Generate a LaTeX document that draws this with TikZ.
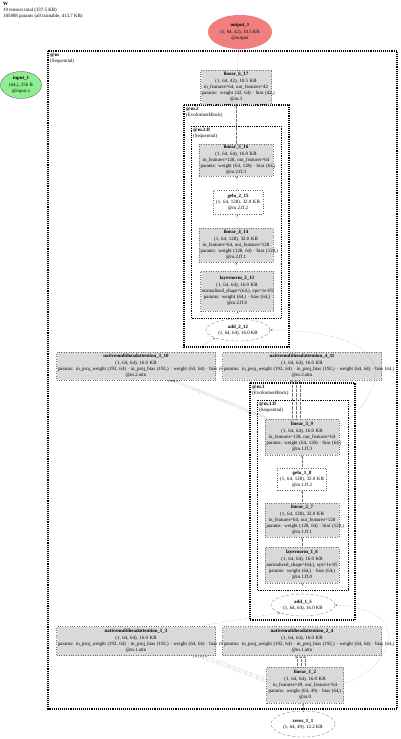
\documentclass[tikz,border=0pt]{standalone}
\usepackage{fontspec}
\setmainfont{Liberation Serif}
\usetikzlibrary{arrows.meta,shapes.geometric}
\definecolor{modgray}{HTML}{D9D9D9}
\definecolor{outred}{HTML}{F08080}
\definecolor{ingreen}{HTML}{90EE90}

\begin{document}
\begin{tikzpicture}[x=1pt,y=-1pt,>={Stealth[length=2.4pt,width=1.8pt]},
  font=\fontsize{4.9}{6.2}\selectfont,
  mod/.style={draw=black!55,dotted,line width=0.4pt,fill=modgray,align=center,inner sep=1.5pt,text width=#1},
  fn/.style={draw=black!60,dotted,line width=0.4pt,fill=white,align=center,inner sep=1.5pt,text width=#1},
  ten/.style={ellipse,draw=black!55,densely dashed,line width=0.3pt,fill=white,align=center,inner sep=0pt},
  clu/.style={draw,line width=1.1pt,densely dotted},
  clutwo/.style={draw,line width=0.8pt,densely dotted},
  lab/.style={anchor=north west,align=left,inner sep=1pt},
  link/.style={->,draw=black!55,densely dotted,line width=0.3pt},
  argl/.style={font=\fontsize{2.8}{3}\selectfont,inner sep=0.4pt,anchor=north east}]
\useasboundingbox (0,0) rectangle (400,739);
\node[lab] (title) at (2,1) {\textbf{W}\\19 tensors total (337.5 KB)\\185898 params (all trainable, 413.7 KB)};
\draw[clu] (48,51) rectangle (397,709);
\node[lab] (mlab) at (49,52) {\textbf{@m}\\(Sequential)};
\draw[clu] (184,105) rectangle (289,347);
\node[lab] (mtwolab) at (185,106) {\textbf{@m.2}\\(EvoformerBlock)};
\draw[clutwo] (191,126) rectangle (281,318);
\node[lab] (mtwofflab) at (192,127) {\textbf{@m.2.ff}\\(Sequential)};
\draw[clu] (250,383) rectangle (355,620);
\node[lab] (monelab) at (251,384) {\textbf{@m.1}\\(EvoformerBlock)};
\draw[clutwo] (257,400) rectangle (348,590);
\node[lab] (moneff) at (258,401) {\textbf{@m.1.ff}\\(Sequential)};
\node[ten,fill=outred,draw=black!80,dotted,minimum width=64pt,minimum height=34pt] (out) at (240,32) {\textbf{output\_1}\\(1, 64, 42), 10.5 KB\\@output};
\node[ten,fill=ingreen,draw=black!70,solid,minimum width=41pt,minimum height=27pt] (inp) at (21,85) {\textbf{input\_1}\\(64,), 256 B\\@input.x};
\node[mod=68pt,minimum height=34pt] (lin6) at (236,87) {\textbf{linear\_6\_17}\\(1, 64, 42), 10.5 KB\\in\_features=64, out\_features=42\\\mbox{params: weight (42, 64) · bias (42,)}\\@m.3};
\node[mod=71pt,minimum height=32pt] (lin5) at (236,160) {\textbf{linear\_5\_16}\\(1, 64, 64), 16.0 KB\\\mbox{in\_features=128, out\_features=64}\\\mbox{params: weight (64, 128) · bias (64,)}\\@m.2.ff.3};
\node[fn=47pt,minimum height=24pt] (gelu2) at (238,202) {\textbf{gelu\_2\_15}\\\mbox{(1, 64, 128), 32.0 KB}\\@m.2.ff.2};
\node[mod=71pt,minimum height=34pt] (lin4) at (236,245) {\textbf{linear\_4\_14}\\(1, 64, 128), 32.0 KB\\\mbox{in\_features=64, out\_features=128}\\\mbox{params: weight (128, 64) · bias (128,)}\\@m.2.ff.1};
\node[mod=70pt,minimum height=40pt] (ln2) at (237,291) {\textbf{layernorm\_2\_13}\\(1, 64, 64), 16.0 KB\\\mbox{normalized\_shape=(64,), eps=1e-05}\\\mbox{params: weight (64,) · bias (64,)}\\@m.2.ff.0};
\node[ten,minimum width=64pt,minimum height=22pt] (add2) at (238,330) {\textbf{add\_2\_12}\\(1, 64, 64), 16.0 KB};
\node[mod=156pt,minimum height=28pt] (mha3) at (136,366) {\textbf{nativemultiheadattention\_3\_10}\\(1, 64, 64), 16.0 KB\\\mbox{params: in\_proj\_weight (192, 64) · in\_proj\_bias (192,) · weight (64, 64) · bias (64,)}\\@m.2.attn};
\node[mod=156pt,minimum height=28pt] (mha4) at (302,366) {\textbf{nativemultiheadattention\_4\_11}\\(1, 64, 64), 16.0 KB\\\mbox{params: in\_proj\_weight (192, 64) · in\_proj\_bias (192,) · weight (64, 64) · bias (64,)}\\@m.2.attn};
\node[mod=71pt,minimum height=36pt] (lin3) at (302,437) {\textbf{linear\_3\_9}\\(1, 64, 64), 16.0 KB\\\mbox{in\_features=128, out\_features=64}\\\mbox{params: weight (64, 128) · bias (64,)}\\@m.1.ff.3};
\node[fn=46pt,minimum height=22pt] (gelu1) at (302,479) {\textbf{gelu\_1\_8}\\\mbox{(1, 64, 128), 32.0 KB}\\@m.1.ff.2};
\node[mod=71pt,minimum height=34pt] (lin2) at (302,520) {\textbf{linear\_2\_7}\\(1, 64, 128), 32.0 KB\\\mbox{in\_features=64, out\_features=128}\\\mbox{params: weight (128, 64) · bias (128,)}\\@m.1.ff.1};
\node[mod=71pt,minimum height=36pt] (ln1) at (302,565) {\textbf{layernorm\_1\_6}\\(1, 64, 64), 16.0 KB\\\mbox{normalized\_shape=(64,), eps=1e-05}\\\mbox{params: weight (64,) · bias (64,)}\\@m.1.ff.0};
\node[ten,minimum width=64pt,minimum height=22pt] (add1) at (303,605) {\textbf{add\_1\_5}\\(1, 64, 64), 16.0 KB};
\node[mod=156pt,minimum height=29pt] (mha1) at (136,641) {\textbf{nativemultiheadattention\_1\_3}\\(1, 64, 64), 16.0 KB\\\mbox{params: in\_proj\_weight (192, 64) · in\_proj\_bias (192,) · weight (64, 64) · bias (64,)}\\@m.1.attn};
\node[mod=156pt,minimum height=29pt] (mha2) at (302,641) {\textbf{nativemultiheadattention\_2\_4}\\(1, 64, 64), 16.0 KB\\\mbox{params: in\_proj\_weight (192, 64) · in\_proj\_bias (192,) · weight (64, 64) · bias (64,)}\\@m.1.attn};
\node[mod=74pt,minimum height=36pt] (lin1) at (305,685) {\textbf{linear\_1\_2}\\(1, 64, 64), 16.0 KB\\in\_features=49, out\_features=64\\\mbox{params: weight (64, 49) · bias (64,)}\\@m.0};
\node[ten,minimum width=64pt,minimum height=26pt] (zeros) at (303,724) {\textbf{zeros\_1\_1}\\(1, 64, 49), 12.2 KB};
\draw[link] (zeros.north) -- (zeros.north |- lin1.south);
\foreach \d/\t in {-8/0,-4/1,0/2}
  \draw[link] ([xshift=\d pt]lin1.north) -- ([xshift=\d pt]lin1.north |- mha2.south) node[argl,pos=1]{\t};
\foreach \a/\b/\t in {3/-21/0,4.7/-16/1,6.4/-11/2}
  \draw[link] ([yshift=\a pt]lin1.west) -- ([xshift=\b pt]mha1.south east) node[argl,pos=1]{\t};
\draw[link] ([xshift=62pt]mha1.north) -- (add1.south west);
\draw[link] ([yshift=2pt]lin1.east) .. controls (388,672) and (420,610) .. (add1.east);
\draw[link] (add1) -- (ln1);
\draw[link] (ln1) -- (lin2);
\draw[link] (lin2) -- (gelu1);
\draw[link] (gelu1) -- (lin3);
\foreach \d/\t in {-10/0,-6/1,-2/2}
  \draw[link] ([xshift=\d pt]lin3.north) -- ([xshift=\d pt]lin3.north |- mha4.south) node[argl,pos=1]{\t};
\foreach \d/\t in {0/0,3/1,6/2}
  \draw[link] ([xshift=\d pt]lin3.north west) -- ([xshift=-46pt+\d pt]mha3.south east) node[argl,pos=1]{\t};
\draw[link] ([xshift=56pt]mha3.north) -- (add2.south west);
\draw[link] ([yshift=10pt]lin3.east) .. controls (378,400) and (418,332) .. (add2.east);
\draw[link] (add2) -- (ln2);
\draw[link] (ln2) -- (lin4);
\draw[link] (lin4) -- (gelu2);
\draw[link] (gelu2) -- (lin5);
\draw[link] (lin5) -- (lin6);
\draw[link] (lin6) -- (out);
\end{tikzpicture}
\end{document}
